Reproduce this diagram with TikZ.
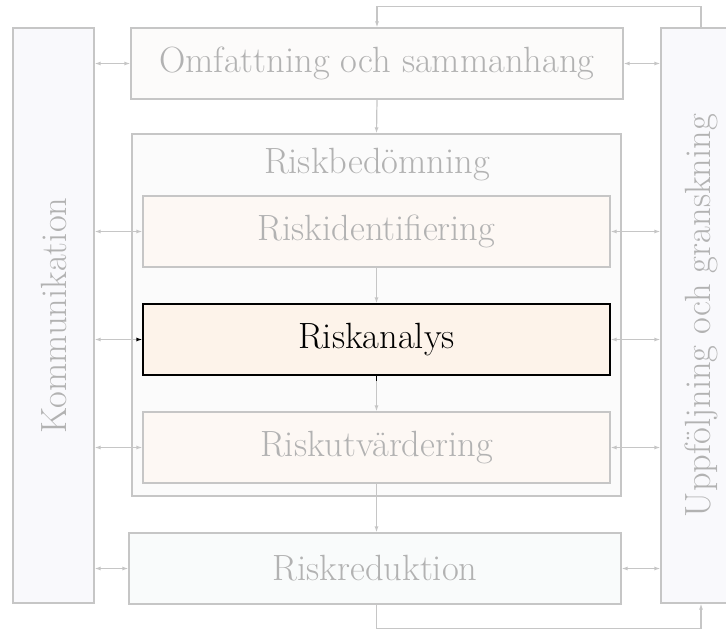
\documentclass[tikz,border=0pt]{standalone}
\usetikzlibrary{arrows.meta}
\definecolor{faded}{HTML}{C6C6C6}
\definecolor{fadedtext}{HTML}{B2B2B2}
\definecolor{sidebg}{HTML}{F9F9FC}
\definecolor{scopebg}{HTML}{FCFBFA}
\definecolor{assessbg}{HTML}{FBFBFB}
\definecolor{stepbg}{HTML}{FDF8F4}
\definecolor{hotbg}{HTML}{FDF3EA}
\definecolor{treatbg}{HTML}{F9FBFB}
\tikzset{
  boxS/.style ={draw=faded, line width=1.2pt, text=fadedtext, inner sep=0pt,
                font=\fontsize{36.5}{42}\selectfont},
  sideS/.style={boxS, fill=sidebg, rotate=90, minimum width=575pt},
  stepS/.style={boxS, fill=stepbg, minimum width=467pt, minimum height=71pt},
  hotS/.style ={stepS, draw=black, text=black, fill=hotbg},
  conn/.style ={draw=faded, line width=1.2pt, -{Latex[length=6pt,width=4pt]}},
  both/.style ={conn, {Latex[length=6pt,width=4pt]}-{Latex[length=6pt,width=4pt]}},
}
\begin{document}
\begin{tikzpicture}[x=1pt,y=-1pt]
  \useasboundingbox (0,0) rectangle (726,630);
  % side columns (rotated: east is top, west is bottom, south is right, north is left)
  \node[sideS, minimum height=81pt] (kom) at (53.5,315.5) {Kommunikation};
  \node[sideS, minimum height=80pt] (upp) at (701,315.5) {Uppföljning och granskning};
  % main chain
  \node[boxS, fill=scopebg, minimum width=492pt, minimum height=71pt] (omf) at (377,63.5) {Omfattning och sammanhang};
  \node[boxS, fill=assessbg, minimum width=489pt, minimum height=362pt] (bed) at (376.5,315) {};
  \node[text=fadedtext, font=\fontsize{36.5}{42}\selectfont] (bedlbl) at (377,165) {Riskbedömning};
  \node[stepS] (rid) at (376.5,231.5) {Riskidentifiering};
  \node[hotS]  (ran) at (376.5,339.5) {Riskanalys};
  \node[stepS] (ruv) at (376.5,447.5) {Riskutvärdering};
  \node[boxS, fill=treatbg, minimum width=492pt, minimum height=71pt] (rred) at (375,568.5) {Riskreduktion};
  % flow down
  \draw[conn] (omf.south) -- (bed.north);
  \draw[conn] (rid.south) -- (ran.north);
  \draw[conn] (ran.south) -- (ruv.north);
  \draw[black, line width=1.2pt] (ran.south) -- ++(0,5);
  \draw[conn] (ruv.south) -- (ruv.south |- rred.north);
  % feedback loops
  \draw[conn] (upp.east) -- ++(0,-21) -| (omf.north);
  \draw[conn] (ruv.south |- rred.south) -- ++(0,24) -| (upp.west);
  % communication and monitoring
  \foreach \b in {omf,rid,ruv,rred}{
    \draw[both] (kom.south |- \b.west) -- (\b.west);
    \draw[both] (\b.east) -- (upp.north |- \b.east);
  }
  \draw[both, {Latex[length=6pt,width=4pt]}-{Latex[length=6pt,width=4pt,color=black]}] (kom.south |- ran.west) -- (ran.west);
  \draw[both] (ran.east) -- (upp.north |- ran.east);
\end{tikzpicture}
\end{document}
